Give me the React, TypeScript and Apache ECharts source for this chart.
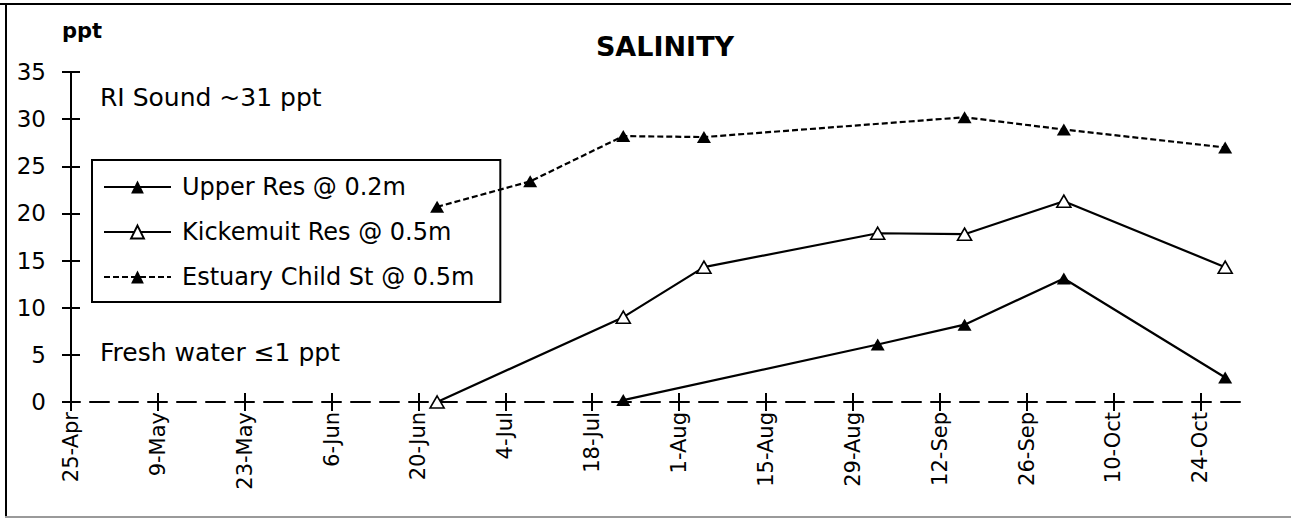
import React, { useEffect, useRef } from 'react';
import * as echarts from 'echarts';

// ---- data ----
const BASE_DATE = '2019-04-25';
const X_MAX_DATE = '2019-11-01';
const X_TICK_DAYS = 14;
const MONTHS = ['Jan', 'Feb', 'Mar', 'Apr', 'May', 'Jun', 'Jul', 'Aug', 'Sep', 'Oct', 'Nov', 'Dec'];

const SERIES_NAMES = ['Upper Res @ 0.2m', 'Kickemuit Res @ 0.5m', 'Estuary Child St @ 0.5m'];

const upperDates = ['2019-07-23', '2019-09-02', '2019-09-16', '2019-10-02', '2019-10-28'];
const upperValues = [0.2, 6.1, 8.2, 13.1, 2.6];

const kickDates = ['2019-06-23', '2019-07-23', '2019-08-05', '2019-09-02', '2019-09-16', '2019-10-02', '2019-10-28'];
const kickValues = [0.0, 9.0, 14.3, 17.9, 17.8, 21.3, 14.3];

const estDates = ['2019-06-23', '2019-07-08', '2019-07-23', '2019-08-05', '2019-09-16', '2019-10-02', '2019-10-28'];
const estValues = [20.7, 23.4, 28.2, 28.1, 30.2, 28.9, 27.0];

const Y_MIN = 0;
const Y_MAX = 35;
const Y_STEP = 5;

const TITLE = 'SALINITY';
const Y_UNIT = 'ppt';
const NOTE_TOP = 'RI Sound ~31 ppt';
const NOTE_BOTTOM = 'Fresh water \u22641 ppt';

// ---- helpers ----
const DAY = 86400000;
const dayOffset = (d: string) => Math.round((Date.parse(d) - Date.parse(BASE_DATE)) / DAY);
const fmtDay = (v: number) => {
  const dt = new Date(Date.parse(BASE_DATE) + v * DAY);
  return `${dt.getUTCDate()}-${MONTHS[dt.getUTCMonth()]}`;
};
const pairs = (ds: string[], vs: number[]) => ds.map((d, i) => [dayOffset(d), vs[i]]);

const FONT = '"DejaVu Sans", sans-serif';
const BOLD_FONT = '"DejaVu Sans", sans-serif';

export default function App() {
  const ref = useRef<HTMLDivElement>(null);

  useEffect(() => {
    if (!ref.current) return;
    const chart = echarts.init(ref.current, undefined, { renderer: 'svg' });
    const xMax = dayOffset(X_MAX_DATE);
    const xTicks: number[] = [];
    for (let v = 0; v <= xMax; v += X_TICK_DAYS) xTicks.push(v);

    const baseX = {
      type: 'value' as const,
      min: 0,
      max: xMax,
      interval: X_TICK_DAYS,
      position: 'bottom' as const,
      splitLine: { show: false },
    };
    const baseY = {
      type: 'value' as const,
      min: Y_MIN,
      max: Y_MAX,
      interval: Y_STEP,
      position: 'left' as const,
      splitLine: { show: false },
    };

    const lineSeries = (name: string, data: number[][], open: boolean, dashed: boolean) => ({
      name,
      type: 'line' as const,
      data,
      symbol: 'triangle',
      symbolSize: [14, 12],
      showAllSymbol: true,
      z: 5,
      lineStyle: { color: '#000', width: 2.2, type: dashed ? [6, 3] : 'solid' },
      itemStyle: open
        ? { color: '#fff', borderColor: '#000', borderWidth: 1.6 }
        : { color: '#000', borderColor: '#000', borderWidth: 0 },
      emphasis: { disabled: true },
    });

    chart.setOption({
      animation: false,
      backgroundColor: '#fff',
      grid: { left: 71, right: 41, top: 72, bottom: 118, containLabel: false },
      title: {
        text: TITLE,
        left: 660,
        top: 28,
        textAlign: 'center',
        textStyle: { fontFamily: BOLD_FONT, fontWeight: 'bold', fontSize: 27, color: '#000' },
      },
      legend: {
        orient: 'vertical',
        left: 92,
        top: 160,
        itemWidth: 67,
        itemHeight: 16,
        itemGap: 21,
        padding: [15, 26, 13, 11],
        borderColor: '#000',
        borderWidth: 2,
        backgroundColor: '#fff',
        data: SERIES_NAMES,
        textStyle: { fontFamily: FONT, fontSize: 24, color: '#000', padding: [0, 0, 0, 6] },
        selectedMode: false,
      },
      xAxis: [
        {
          ...baseX,
          axisLine: {
            show: true,
            onZero: false,
            lineStyle: { color: '#000', width: 2, type: [19, 10], dashOffset: 10 },
          },
          axisTick: { show: true, inside: false, length: 9, customValues: xTicks, lineStyle: { color: '#000', width: 2 } },
          axisLabel: {
            show: true,
            rotate: 90,
            margin: 10,
            customValues: xTicks,
            formatter: (v: number) => fmtDay(v),
            fontFamily: FONT,
            fontSize: 21,
            color: '#000',
          },
        },
        {
          ...baseX,
          axisLine: { show: false },
          axisTick: { show: true, inside: true, length: 9, customValues: xTicks, lineStyle: { color: '#000', width: 2 } },
          axisLabel: { show: false },
        },
      ],
      yAxis: [
        {
          ...baseY,
          axisLine: { show: true, onZero: false, lineStyle: { color: '#000', width: 2 } },
          axisTick: { show: true, inside: false, length: 9, lineStyle: { color: '#000', width: 2 } },
          axisLabel: { show: true, margin: 25, fontFamily: FONT, fontSize: 23, color: '#000' },
        },
        {
          ...baseY,
          axisLine: { show: false },
          axisTick: { show: true, inside: true, length: 9, lineStyle: { color: '#000', width: 2 } },
          axisLabel: { show: false },
        },
      ],
      series: [
        lineSeries(SERIES_NAMES[0], pairs(upperDates, upperValues), false, false),
        lineSeries(SERIES_NAMES[1], pairs(kickDates, kickValues), true, false),
        lineSeries(SERIES_NAMES[2], pairs(estDates, estValues), false, true),
      ],
      graphic: [
        { type: 'rect', shape: { x: 0, y: 3, width: 1291, height: 2 }, style: { fill: '#000' }, silent: true },
        { type: 'rect', shape: { x: 5, y: 3, width: 2, height: 514 }, style: { fill: '#000' }, silent: true },
        { type: 'rect', shape: { x: 5, y: 516, width: 1286, height: 2 }, style: { fill: '#9a9a9a' }, silent: true },
        {
          type: 'text',
          x: 62,
          y: 31,
          style: { text: Y_UNIT, fontFamily: BOLD_FONT, fontWeight: 'bold', fontSize: 21, fill: '#000', verticalAlign: 'middle' },
        },
        {
          type: 'text',
          x: 100,
          y: 97,
          style: { text: NOTE_TOP, fontFamily: FONT, fontSize: 25, fill: '#000', verticalAlign: 'middle' },
        },
        {
          type: 'text',
          x: 100,
          y: 352,
          style: { text: NOTE_BOTTOM, fontFamily: FONT, fontSize: 25, fill: '#000', verticalAlign: 'middle' },
        },
      ],
    });
    return () => chart.dispose();
  }, []);

  return <div ref={ref} style={{ position: 'absolute', left: 0, top: 0, width: 1291, height: 520 }} />;
}
